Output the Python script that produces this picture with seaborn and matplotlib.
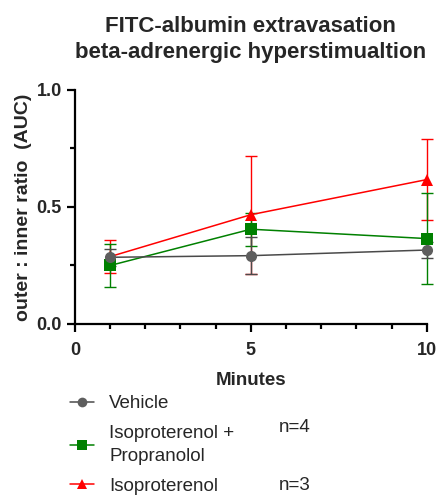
import numpy as np
import pandas as pd
import matplotlib
matplotlib.use('Agg')
import matplotlib.pyplot as plt
from matplotlib.lines import Line2D
from matplotlib.ticker import MultipleLocator
import seaborn as sns

# data (means and SEM)
minutes = [1, 5, 10]
vehicle_mean = [0.285, 0.292, 0.316]
vehicle_sem = [0.037, 0.080, 0.034]
iso_prop_mean = [0.250, 0.405, 0.365]
iso_prop_sem = [0.090, 0.070, 0.195]
iso_mean = [0.288, 0.467, 0.617]
iso_sem = [0.071, 0.252, 0.173]

groups = ['Vehicle', 'Isoproterenol +\nPropranolol', 'Isoproterenol']
n_labels = ['', 'n=4', 'n=3']
colors = {'Vehicle': '#4a4a4a', 'Isoproterenol +\nPropranolol': '#008000', 'Isoproterenol': '#ff0000'}
marker_colors = {'Vehicle': '#5e5e5e', 'Isoproterenol +\nPropranolol': '#008000', 'Isoproterenol': '#ff0000'}
markers = {'Vehicle': 'o', 'Isoproterenol +\nPropranolol': 's', 'Isoproterenol': '^'}

sns.set_style('ticks')
plt.rcParams['font.family'] = ['Liberation Sans', 'DejaVu Sans']

rows = []
for g, m, s in zip(groups, [vehicle_mean, iso_prop_mean, iso_mean], [vehicle_sem, iso_prop_sem, iso_sem]):
    for t, mv, sv in zip(minutes, m, s):
        rows.append({'Minutes': t, 'value': mv, 'sem': sv, 'group': g})
df = pd.DataFrame(rows)

fig = plt.figure(figsize=(4.37, 4.96), dpi=100)
ax = fig.add_axes([0.1716, 0.3468, 0.8048, 0.4718])

# draw red first so grey sits on top like the original
order = ['Isoproterenol', 'Isoproterenol +\nPropranolol', 'Vehicle']
for g in order:
    d = df[df['group'] == g]
    ax.errorbar(d['Minutes'], d['value'], yerr=d['sem'], fmt='none', ecolor=colors[g],
                elinewidth=1.0, capsize=4.5, capthick=1.0, clip_on=False, zorder=2)
    sns.lineplot(data=d, x='Minutes', y='value', color=colors[g], marker=markers[g],
                 markersize=8, markeredgewidth=0, markerfacecolor=marker_colors[g],
                 linewidth=1.1, ax=ax, clip_on=False, zorder=3, errorbar=None)

ax.set_xlim(0, 10)
ax.set_ylim(0, 1.0)
ax.xaxis.set_major_locator(MultipleLocator(5))
ax.xaxis.set_minor_locator(MultipleLocator(1))
ax.yaxis.set_major_locator(MultipleLocator(0.5))
ax.yaxis.set_minor_locator(MultipleLocator(0.25))
ax.yaxis.set_major_formatter(matplotlib.ticker.FormatStrFormatter('%.1f'))
sns.despine(ax=ax)
for sp in ['left', 'bottom']:
    ax.spines[sp].set_linewidth(1.6)
    ax.spines[sp].set_color('black')
ax.tick_params(which='major', length=6, width=1.6, color='black', labelsize=13)
ax.tick_params(axis='x', which='major', pad=7)
ax.tick_params(which='minor', length=3.5, width=1.6, color='black')
for lab in ax.get_xticklabels() + ax.get_yticklabels():
    lab.set_fontweight('bold')

ax.set_xlabel('Minutes', fontsize=13.5, fontweight='bold', labelpad=9)
ax.set_ylabel('outer : inner ratio  (AUC)', fontsize=14, fontweight='bold', labelpad=3)
ax.set_title('FITC-albumin extravasation\nbeta-adrenergic hyperstimualtion',
             fontsize=16, fontweight='bold', pad=23, linespacing=1.3)

handles = [Line2D([0], [0], color=colors[g], marker=markers[g], markersize=7,
                  markerfacecolor=marker_colors[g], markeredgewidth=0, linewidth=1.1)
           for g in groups]
leg = fig.legend(handles, groups, loc='upper left', bbox_to_anchor=(70 / 437, 1 - 395 / 496),
                 frameon=False, fontsize=13.5, handlelength=1.3, handletextpad=0.8,
                 borderpad=0, borderaxespad=0, labelspacing=0.68)
for t in leg.get_texts():
    t.set_linespacing(1.45)
fig.text(279 / 437, 1 - 428 / 496, n_labels[1], fontsize=13.5, va='center', ha='left')
fig.text(279 / 437, 1 - 485 / 496, n_labels[2], fontsize=13.5, va='center', ha='left')

fig.savefig('out.png', dpi=100)
